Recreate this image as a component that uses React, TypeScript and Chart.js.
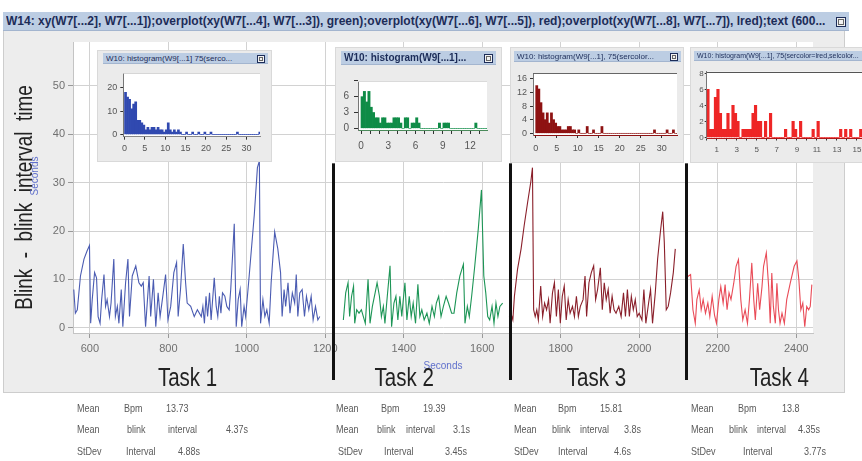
import React, { useEffect, useRef } from 'react';
import { Chart, registerables } from 'chart.js';

Chart.register(...registerables);

const FONT = "'Liberation Sans', Arial, sans-serif";
Chart.defaults.font.family = FONT;

// ================= DATA =================
// Task 1 (blue) blink-to-blink intervals: time (s) and interval (s)
const task1X = [559, 563, 568, 576, 585, 593, 599, 602, 606, 612, 617, 621, 626, 630, 636, 640, 644, 650, 654, 661, 665, 670, 674, 680, 684, 691, 697, 701, 708, 717, 725, 731, 736, 742, 751, 755, 762, 768, 774, 779, 787, 793, 799, 806, 814, 821, 825, 831, 838, 844, 848, 857, 866, 874, 884, 888, 892, 896, 900, 905, 909, 917, 922, 926, 930, 934, 938, 944, 949, 955, 959, 968, 973, 978, 983, 987, 993, 997, 1006, 1019, 1027, 1032, 1035, 1041, 1046, 1051, 1057, 1062, 1071, 1079, 1086, 1090, 1095, 1099, 1105, 1110, 1116, 1122, 1126, 1130, 1135, 1141, 1147, 1152, 1158, 1164, 1169, 1175, 1181, 1186];
const task1Y = [7.9, 3.0, 3.7, 10.7, 14.2, 15.9, 17.0, 0.9, 5.8, 11.4, 10.3, 2.3, 0.9, 5.8, 11.0, 4.4, 5.8, 2.3, 5.1, 14.2, 2.3, 4.4, 0.9, 7.9, 0.2, 9.3, 14.2, 2.3, 10.7, 12.8, 9.3, 8.6, 9.3, 0.2, 10.7, 2.3, 10.0, 0.2, 7.2, 2.3, 7.2, 11.0, 1.6, 4.4, 11.4, 13.5, 2.3, 7.9, 17.3, 9.3, 5.1, 4.4, 2.3, 3.7, 2.3, 4.4, 0.9, 6.5, 2.3, 7.2, 1.6, 10.3, 4.4, 2.3, 6.5, 3.0, 7.2, 6.5, 4.4, 3.7, 7.9, 21.5, 0.2, 5.8, 7.9, 0.2, 4.4, 2.3, 10.7, 23.3, 33.1, 34.5, 0.9, 5.8, 2.3, 3.7, 0.9, 9.3, 19.8, 16.3, 11.4, 2.3, 7.9, 4.4, 9.3, 3.0, 7.2, 5.1, 11.0, 2.3, 7.2, 7.9, 2.3, 6.5, 3.7, 6.5, 1.6, 4.4, 1.6, 2.3];

// Task 2 (green)
const task2X = [1246, 1252, 1258, 1262, 1267, 1272, 1275, 1280, 1286, 1292, 1297, 1302, 1309, 1314, 1320, 1327, 1332, 1338, 1343, 1348, 1352, 1358, 1365, 1369, 1375, 1380, 1385, 1390, 1395, 1398, 1403, 1408, 1414, 1419, 1424, 1430, 1436, 1441, 1446, 1452, 1459, 1465, 1472, 1478, 1483, 1489, 1495, 1501, 1508, 1514, 1522, 1528, 1535, 1543, 1552, 1556, 1562, 1567, 1573, 1581, 1590, 1598, 1604, 1609, 1614, 1619, 1625, 1630, 1635, 1640, 1645, 1652];
const task2Y = [1.6, 7.2, 9.3, 2.3, 6.5, 8.6, 0.9, 3.7, 3.0, 3.7, 2.3, 0.9, 10.0, 0.9, 4.4, 7.2, 9.3, 6.5, 2.3, 4.4, 0.9, 6.5, 12.8, 0.2, 5.1, 6.5, 1.6, 6.5, 2.3, 5.1, 9.3, 1.6, 6.5, 2.3, 5.1, 0.9, 9.0, 2.3, 3.7, 1.6, 3.0, 0.9, 4.4, 2.3, 5.1, 6.5, 2.3, 4.4, 6.5, 5.1, 3.0, 3.0, 7.2, 10.7, 13.1, 0.9, 4.4, 2.3, 6.5, 12.8, 20.5, 28.5, 10.7, 7.2, 2.3, 1.6, 4.4, 0.9, 5.1, 2.3, 4.4, 5.1];

// Task 3 (dark red)
const task3X = [1669, 1673, 1678, 1682, 1690, 1699, 1707, 1716, 1724, 1728, 1731, 1735, 1739, 1743, 1749, 1754, 1759, 1764, 1769, 1773, 1779, 1784, 1789, 1794, 1799, 1804, 1809, 1814, 1819, 1824, 1830, 1835, 1840, 1845, 1850, 1857, 1862, 1866, 1872, 1878, 1884, 1889, 1894, 1901, 1906, 1911, 1916, 1921, 1926, 1931, 1936, 1941, 1948, 1954, 1960, 1965, 1970, 1975, 1980, 1985, 1990, 1995, 2000, 2007, 2012, 2017, 2024, 2029, 2034, 2041, 2047, 2054, 2060, 2064, 2069, 2074, 2080, 2087, 2092];
const task3Y = [2.3, 3.0, 1.6, 6.5, 12.1, 16.3, 21.2, 26.1, 30.3, 33.1, 3.7, 2.3, 3.7, 1.6, 8.6, 2.3, 5.1, 3.7, 5.8, 0.9, 7.2, 9.3, 2.3, 7.9, 0.9, 6.5, 8.6, 1.6, 5.8, 3.0, 4.4, 2.3, 6.5, 2.3, 4.4, 5.8, 10.7, 2.3, 9.3, 11.4, 12.8, 5.8, 7.9, 12.4, 3.7, 9.3, 5.8, 7.9, 3.0, 6.5, 3.7, 3.0, 4.4, 2.3, 7.2, 2.3, 7.9, 2.3, 6.5, 3.7, 5.8, 2.3, 3.0, 1.6, 7.9, 0.9, 5.1, 7.9, 0.9, 7.2, 14.2, 19.8, 24.0, 17.7, 3.7, 4.4, 7.2, 11.4, 16.3];

// Task 4 (light red)
const task4X = [2124, 2131, 2137, 2143, 2147, 2153, 2158, 2163, 2169, 2175, 2180, 2186, 2192, 2197, 2203, 2208, 2214, 2219, 2224, 2229, 2234, 2241, 2247, 2253, 2259, 2264, 2270, 2276, 2281, 2287, 2292, 2296, 2302, 2307, 2313, 2317, 2324, 2330, 2334, 2338, 2342, 2347, 2351, 2355, 2359, 2364, 2370, 2376, 2385, 2395, 2402, 2407, 2412, 2417, 2422, 2427, 2432, 2436, 2440];
const task4Y = [10.6, 11.0, 3.7, 0.9, 5.8, 7.8, 3.7, 5.8, 3.0, 5.1, 2.3, 6.5, 2.6, 0.9, 5.8, 8.5, 5.1, 8.9, 3.7, 7.2, 5.8, 9.2, 12.7, 14.1, 5.8, 1.6, 3.7, 0.9, 5.8, 13.4, 5.8, 1.6, 9.2, 3.7, 8.5, 12.7, 15.5, 8.5, 0.9, 11.3, 4.4, 0.9, 9.2, 3.7, 0.9, 3.0, 0.9, 5.8, 9.2, 12.7, 13.8, 9.9, 3.7, 5.1, 0.2, 4.4, 3.7, 4.4, 8.9];

const xTickValues = [600, 800, 1000, 1200, 1400, 1600, 1800, 2000, 2200, 2400];
const yTickValues = [0, 10, 20, 30, 40, 50];
const taskLabels = ['Task 1', 'Task 2', 'Task 3', 'Task 4'];
const taskLabelX = [849, 1401, 1891, 2357];
const taskBoundaries = [1219, 1671, 2119];
const boundaryTopValue = 34;

// Histograms (counts per bin, bins starting at 0)
const hist1Counts = [18, 16, 15, 11, 13, 14, 6, 6, 5, 4, 2, 3, 2, 3, 3, 2, 3, 2, 2, 1, 2, 5, 2, 1, 2, 1, 2, 1, 0, 0, 1, 0, 0, 1, 0, 0, 1, 0, 0, 1, 0, 0, 1, 0, 0, 0, 0, 0, 0, 0, 0, 0, 0, 0, 0, 1, 0, 0, 0, 0, 0, 0, 0, 0, 0, 0, 1, 0];
const hist1BinWidth = 0.5;
const hist1XTicks = [0, 5, 10, 15, 20, 25, 30];
const hist1YTicks = [0, 10, 20];

const hist2Counts = [6, 7, 5, 7, 4, 3, 2, 2, 1, 2, 2, 1, 1, 1, 2, 2, 2, 1, 0, 2, 2, 0, 1, 1, 2, 1, 0, 0, 0, 0, 0, 0, 0, 0, 1, 0, 1, 1, 1, 0, 0, 0, 0, 0, 0, 0, 0, 0, 0, 0, 1, 0, 0, 0, 0, 0];
const hist2BinWidth = 0.25;
const hist2XTicks = [0, 1, 2, 3, 4, 5, 6, 7, 8, 9, 10, 11, 12, 13];
const hist2XLabeled = [0, 3, 6, 9, 12];
const hist2YTicks = [0, 3, 6, 9];
const hist2YLabeled = [0, 3, 6];

const hist3Counts = [14, 13, 9, 6, 4, 6, 3, 6, 4, 3, 2, 2, 1, 1, 1, 2, 2, 1, 1, 0, 1, 0, 0, 0, 2, 0, 0, 1, 0, 0, 0, 2, 0, 0, 0, 0, 0, 0, 0, 0, 0, 0, 0, 0, 0, 0, 0, 0, 0, 0, 0, 0, 0, 0, 0, 0, 1, 0, 0, 0, 0, 0, 1, 0, 0, 1, 0, 0];
const hist3BinWidth = 0.5;
const hist3XTicks = [0, 5, 10, 15, 20, 25, 30];
const hist3YTicks = [0, 4, 8, 12, 16];

const hist4Counts = [6, 1, 1, 5, 6, 3, 1, 1, 3, 1, 4, 3, 2, 0, 1, 1, 1, 1, 3, 4, 2, 2, 0, 2, 0, 3, 0, 0, 0, 0, 0, 1, 0, 0, 2, 1, 0, 2, 0, 0, 0, 0, 1, 0, 2, 0, 0, 0, 0, 0, 0, 0, 0, 1, 0, 1, 0, 1, 0, 0, 0, 1];
const hist4BinWidth = 0.25;
const hist4XTicks = [0, 1, 2, 3, 4, 5, 6, 7, 8, 9, 10, 11, 12, 13, 14, 15];
const hist4XLabeled = [1, 3, 5, 7, 9, 11, 13, 15];
const hist4YTicks = [0, 2, 4, 6, 8];

// Summary statistics per task
const statsBpm = ['13.73', '19.39', '15.81', '13.8'];
const statsMeanInterval = ['4.37s', '3.1s', '3.8s', '4.35s'];
const statsStdInterval = ['4.88s', '3.45s', '4.6s', '3.77s'];

// ================= LAYOUT =================
const PAGE_W = 862;
const PAGE_H = 461;
const MAIN_AREA = { l: 73, t: 42, r: 813, b: 333 };
const MAIN_TITLE = 'W14: xy(W7[...2], W7[...1]);overplot(xy(W7[...4], W7[...3]), green);overplot(xy(W7[...6], W7[...5]), red);overplot(xy(W7[...8], W7[...7]), lred);text (600...';
const Y_TITLE = 'Blink  -  blink  interval  time';
const NARROW_SCALE = 0.82;

const statBlockX = [77, 336, 514, 691];
const statRowY = [402, 423, 445];
const statOffsets = [
  [[0, 47, 89], [0, 50, 91, 149], [0, 49, 101]],
  [[0, 45, 87], [0, 41, 70, 117], [2, 48, 109]],
  [[0, 44, 86], [0, 38, 66, 110], [0, 44, 100]],
  [[0, 47, 91], [0, 38, 66, 107], [0, 52, 113]],
];

type InsetSpec = {
  box: number[];
  bar: number[];
  title: string;
  titleFont: string;
  icon: number;
  area: { l: number; t: number; r: number; b: number };
  xMin: number; xMax: number; yMin: number; yMax: number;
  xTicks: number[]; xLabeled: number[]; yTicks: number[]; yLabeled: number[];
  counts: number[]; binWidth: number; color: string; baseColor: string; topLine: string;
  fontSize: number; tickLen: number; xPad: number; yPad: number;
};

const insets: InsetSpec[] = [
  {
    box: [97, 50, 175, 112], bar: [103, 53, 165, 11], title: 'W10: histogram(W9[...1] 75(serco...', titleFont: `8px ${FONT}`, icon: 8,
    area: { l: 123.3, t: 73.3, r: 260, b: 136.7 }, xMin: -0.3, xMax: 33.3, yMin: -1, yMax: 26.2,
    xTicks: hist1XTicks, xLabeled: hist1XTicks, yTicks: hist1YTicks, yLabeled: hist1YTicks,
    counts: hist1Counts, binWidth: hist1BinWidth, color: '#3049b0', baseColor: '#888', topLine: '#d6d6d6',
    fontSize: 9, tickLen: 3, xPad: 3, yPad: 3,
  },
  {
    box: [335, 47, 167, 115], bar: [341, 51, 155, 14], title: 'W10: histogram(W9[...1]...', titleFont: `bold 10px ${FONT}`, icon: 9,
    area: { l: 358, t: 81, r: 487, b: 130 }, xMin: -0.33, xMax: 13.85, yMin: -0.32, yMax: 8.97,
    xTicks: hist2XTicks, xLabeled: hist2XLabeled, yTicks: hist2YTicks, yLabeled: hist2YLabeled,
    counts: hist2Counts, binWidth: hist2BinWidth, color: '#0f8c47', baseColor: '#4a8a5a', topLine: '#dadada',
    fontSize: 10, tickLen: 4, xPad: 6, yPad: 5,
  },
  {
    box: [510, 47, 174, 116], bar: [514, 51, 167, 11], title: 'W10: histogram(W9[...1], 75(sercolor...', titleFont: `8px ${FONT}`, icon: 8,
    area: { l: 533, t: 73, r: 677, b: 135 }, xMin: -0.64, xMax: 33.6, yMin: -0.5, yMax: 17.7,
    xTicks: hist3XTicks, xLabeled: hist3XTicks, yTicks: hist3YTicks, yLabeled: hist3YTicks,
    counts: hist3Counts, binWidth: hist3BinWidth, color: '#8e1212', baseColor: '#8e1212', topLine: '#666',
    fontSize: 9, tickLen: 3, xPad: 5, yPad: 3,
  },
  {
    box: [690, 47, 182, 116], bar: [694, 51, 178, 10], title: 'W10: histogram(W9[...1], 75(sercolor=lred,selcolor...', titleFont: `7px ${FONT}`, icon: 7,
    area: { l: 706.7, t: 71.7, r: 866, b: 138.5 }, xMin: 0, xMax: 15.9, yMin: -0.15, yMax: 8.2,
    xTicks: hist4XTicks, xLabeled: hist4XLabeled, yTicks: hist4YTicks, yLabeled: hist4YTicks,
    counts: hist4Counts, binWidth: hist4BinWidth, color: '#ee2626', baseColor: '#b01818', topLine: '#555',
    fontSize: 8, tickLen: 2, xPad: 4, yPad: 1,
  },
];

// ================= CHART CONFIGS =================
const mainPlugin = {
  id: 'mainOverlay',
  beforeDraw(chart: any) {
    const { ctx, chartArea: a } = chart;
    ctx.save();
    ctx.fillStyle = '#ffffff';
    ctx.fillRect(a.left, a.top, a.right - a.left, a.bottom - a.top);
    ctx.restore();
  },
  afterDatasetsDraw(chart: any) {
    const { ctx, scales } = chart;
    const x = scales.x;
    const y = scales.y;
    ctx.save();
    ctx.strokeStyle = '#111111';
    ctx.lineWidth = 3;
    const topPx = y.getPixelForValue(boundaryTopValue);
    taskBoundaries.forEach((v) => {
      const px = Math.round(x.getPixelForValue(v)) + 0.5;
      ctx.beginPath();
      ctx.moveTo(px, topPx);
      ctx.lineTo(px, 380);
      ctx.stroke();
    });
    ctx.fillStyle = '#222222';
    ctx.textAlign = 'center';
    ctx.textBaseline = 'alphabetic';
    ctx.font = `25px ${FONT}`;
    taskLabels.forEach((t, i) => {
      ctx.save();
      ctx.translate(x.getPixelForValue(taskLabelX[i]), 386);
      ctx.scale(NARROW_SCALE, 1);
      ctx.fillText(t, 0, 0);
      ctx.restore();
    });
    // big rotated axis title
    ctx.save();
    ctx.translate(31.5, 197.5);
    ctx.rotate(-Math.PI / 2);
    ctx.scale(NARROW_SCALE, 1);
    ctx.font = `23px ${FONT}`;
    ctx.fillText(Y_TITLE, 0, 0);
    ctx.restore();
    // small blue unit title on the y axis
    ctx.save();
    ctx.translate(37.5, 176);
    ctx.rotate(-Math.PI / 2);
    ctx.fillStyle = '#6070cc';
    ctx.font = `10px ${FONT}`;
    ctx.fillText('Seconds', 0, 0);
    ctx.restore();
    ctx.restore();
  },
};

function makeMainConfig(): any {
  const mk = (xs: number[], ys: number[], color: string) => ({
    data: xs.map((v, i) => ({ x: v, y: ys[i] })),
    borderColor: color,
    borderWidth: 1.1,
    pointRadius: 0,
    tension: 0,
    fill: false,
  });
  return {
    type: 'line',
    data: {
      datasets: [
        mk(task1X, task1Y, '#4b5cb2'),
        mk(task2X, task2Y, '#1d9556'),
        mk(task3X, task3Y, '#8a1f2a'),
        mk(task4X, task4Y, '#e94c58'),
      ],
    },
    options: {
      animation: false,
      responsive: false,
      maintainAspectRatio: false,
      layout: { padding: { left: 28.6, top: MAIN_AREA.t, right: PAGE_W - MAIN_AREA.r, bottom: PAGE_H - 372.4 } },
      plugins: { legend: { display: false }, tooltip: { enabled: false } },
      scales: {
        x: {
          type: 'linear',
          min: 557,
          max: 2443,
          afterBuildTicks: (sc: any) => { sc.ticks = xTickValues.map((v) => ({ value: v })); },
          afterFit: (sc: any) => { sc.height = 372.4 - MAIN_AREA.b; },
          grid: { color: '#d2d2d2', tickColor: '#999', tickLength: 5 },
          border: { display: true, color: '#c4c4c4' },
          ticks: { autoSkip: false, maxRotation: 0, padding: 4, color: '#707070', font: { size: 11 }, callback: (v: any) => String(v) },
          title: { display: true, text: 'Seconds', color: '#6070cc', font: { size: 10 }, padding: 0 },
        },
        y: {
          type: 'linear',
          min: -1.1,
          max: 59.1,
          afterBuildTicks: (sc: any) => { sc.ticks = yTickValues.map((v) => ({ value: v })); },
          afterFit: (sc: any) => { sc.width = MAIN_AREA.l - 28.6; },
          grid: { color: '#d2d2d2', tickColor: '#999', tickLength: 5 },
          border: { display: true, color: '#c4c4c4' },
          ticks: { padding: 3, color: '#707070', font: { size: 11 }, callback: (v: any) => String(v) },
        },
      },
    },
    plugins: [mainPlugin],
  };
}

function insetPlugin(topLine: string) {
  return {
    id: 'insetBg',
    beforeDraw(chart: any) {
      const { ctx, chartArea: a } = chart;
      ctx.save();
      ctx.fillStyle = '#ffffff';
      ctx.fillRect(a.left, a.top, a.right - a.left, a.bottom - a.top);
      ctx.restore();
    },
    afterDraw(chart: any) {
      const { ctx, chartArea: a } = chart;
      ctx.save();
      ctx.strokeStyle = topLine;
      ctx.lineWidth = 1;
      ctx.beginPath();
      ctx.moveTo(a.left, Math.round(a.top) + 0.5);
      ctx.lineTo(a.right, Math.round(a.top) + 0.5);
      ctx.stroke();
      ctx.restore();
    },
  };
}

function insetCanvasRect(s: InsetSpec) {
  const top = s.bar[1] + s.bar[3];
  return { left: s.box[0], top, width: s.box[2], height: s.box[1] + s.box[3] - top };
}

function makeInsetConfig(s: InsetSpec): any {
  const r = insetCanvasRect(s);
  return {
    type: 'bar',
    data: {
      datasets: [{
        data: s.counts.map((c, i) => ({ x: (i + 0.5) * s.binWidth, y: c })),
        backgroundColor: s.color,
        borderWidth: 0,
        barPercentage: 1,
        categoryPercentage: 1,
      }],
    },
    options: {
      animation: false,
      responsive: false,
      maintainAspectRatio: false,
      layout: { padding: { left: 0, top: s.area.t - r.top, right: r.left + r.width - s.area.r, bottom: 0 } },
      plugins: { legend: { display: false }, tooltip: { enabled: false } },
      scales: {
        x: {
          type: 'linear',
          offset: false,
          min: s.xMin,
          max: s.xMax,
          afterBuildTicks: (sc: any) => { sc.ticks = s.xTicks.map((v) => ({ value: v })); },
          afterFit: (sc: any) => { sc.height = r.top + r.height - s.area.b; },
          grid: { drawOnChartArea: false, tickLength: s.tickLen, tickColor: '#333', offset: false },
          border: { display: true, color: s.baseColor },
          ticks: { autoSkip: false, maxRotation: 0, padding: s.xPad, color: '#555', font: { size: s.fontSize }, callback: (v: any) => (s.xLabeled.includes(v) ? String(v) : '') },
        },
        y: {
          type: 'linear',
          min: s.yMin,
          max: s.yMax,
          afterBuildTicks: (sc: any) => { sc.ticks = s.yTicks.map((v) => ({ value: v })); },
          afterFit: (sc: any) => { sc.width = s.area.l - r.left; },
          grid: { drawOnChartArea: false, tickLength: s.tickLen, tickColor: '#333' },
          border: { display: true, color: '#777' },
          ticks: { autoSkip: false, padding: s.yPad, color: '#555', font: { size: s.fontSize }, callback: (v: any) => (s.yLabeled.includes(v) ? String(v) : '') },
        },
      },
    },
    plugins: [insetPlugin(s.topLine)],
  };
}

// ================= COMPONENTS =================
function TitleBar({ rect, text, font, icon }: { rect: number[]; text: string; font: string; icon: number }) {
  return (
    <div style={{ position: 'absolute', left: rect[0], top: rect[1], width: rect[2], height: rect[3], background: '#bccde3', borderBottom: '1px solid #a3b5cf', boxSizing: 'border-box', overflow: 'hidden' }}>
      <div style={{ position: 'absolute', left: 3, top: 0, right: icon + 6, whiteSpace: 'nowrap', overflow: 'hidden', font, color: '#1c2c58', lineHeight: `${rect[3]}px` }}>{text}</div>
      <div style={{ position: 'absolute', right: 3, top: (rect[3] - icon) / 2, width: icon, height: icon, border: '1px solid #1c2c58', background: '#f2f2f2', boxSizing: 'border-box' }}>
        <div style={{ position: 'absolute', left: 1, top: 1, right: 1, bottom: 1, border: '1px solid #666', boxSizing: 'border-box' }} />
      </div>
    </div>
  );
}

export default function App() {
  const mainRef = useRef<HTMLCanvasElement>(null);
  const r0 = useRef<HTMLCanvasElement>(null);
  const r1 = useRef<HTMLCanvasElement>(null);
  const r2 = useRef<HTMLCanvasElement>(null);
  const r3 = useRef<HTMLCanvasElement>(null);
  const insetRefs = [r0, r1, r2, r3];

  useEffect(() => {
    const charts: Chart[] = [];
    if (mainRef.current) charts.push(new Chart(mainRef.current, makeMainConfig()));
    insets.forEach((s, k) => {
      const c = insetRefs[k].current;
      if (c) charts.push(new Chart(c, makeInsetConfig(s)));
    });
    return () => charts.forEach((c) => c.destroy());
  }, []);

  const rowWords = (k: number) => [
    ['Mean', 'Bpm', statsBpm[k]],
    ['Mean', 'blink', 'interval', statsMeanInterval[k]],
    ['StDev', 'Interval', statsStdInterval[k]],
  ];

  return (
    <div style={{ position: 'absolute', left: 0, top: 0, width: PAGE_W, height: PAGE_H, overflow: 'hidden', background: '#ffffff', fontFamily: FONT }}>
      <div style={{ position: 'absolute', left: 3, top: 30, width: 842, height: 363, background: '#ededed', border: '1px solid #cdcdcd', boxSizing: 'border-box' }} />
      <canvas ref={mainRef} width={PAGE_W} height={PAGE_H} style={{ position: 'absolute', left: 0, top: 0, width: PAGE_W, height: PAGE_H, display: 'block' }} />
      <TitleBar rect={[3, 12, 846, 19]} text={MAIN_TITLE} font={`bold 12px ${FONT}`} icon={10} />
      {insets.map((s, k) => {
        const r = insetCanvasRect(s);
        return (
          <React.Fragment key={k}>
            <div style={{ position: 'absolute', left: s.box[0], top: s.box[1], width: s.box[2], height: s.box[3], background: '#ebebeb', border: '1px solid #d9d9d9', boxSizing: 'border-box' }} />
            <TitleBar rect={s.bar} text={s.title} font={s.titleFont} icon={s.icon} />
            <canvas ref={insetRefs[k]} width={r.width} height={r.height} style={{ position: 'absolute', left: r.left, top: r.top, width: r.width, height: r.height, display: 'block' }} />
          </React.Fragment>
        );
      })}
      {statBlockX.map((bx, k) =>
        rowWords(k).map((words, row) =>
          words.map((w, j) => (
            <span key={`${k}-${row}-${j}`} style={{ position: 'absolute', left: bx + statOffsets[k][row][j], top: statRowY[row], font: `11px ${FONT}`, color: '#5a5a5a', lineHeight: '12px', whiteSpace: 'nowrap', transform: `scaleX(${NARROW_SCALE})`, transformOrigin: 'left center' }}>{w}</span>
          ))
        )
      )}
    </div>
  );
}
